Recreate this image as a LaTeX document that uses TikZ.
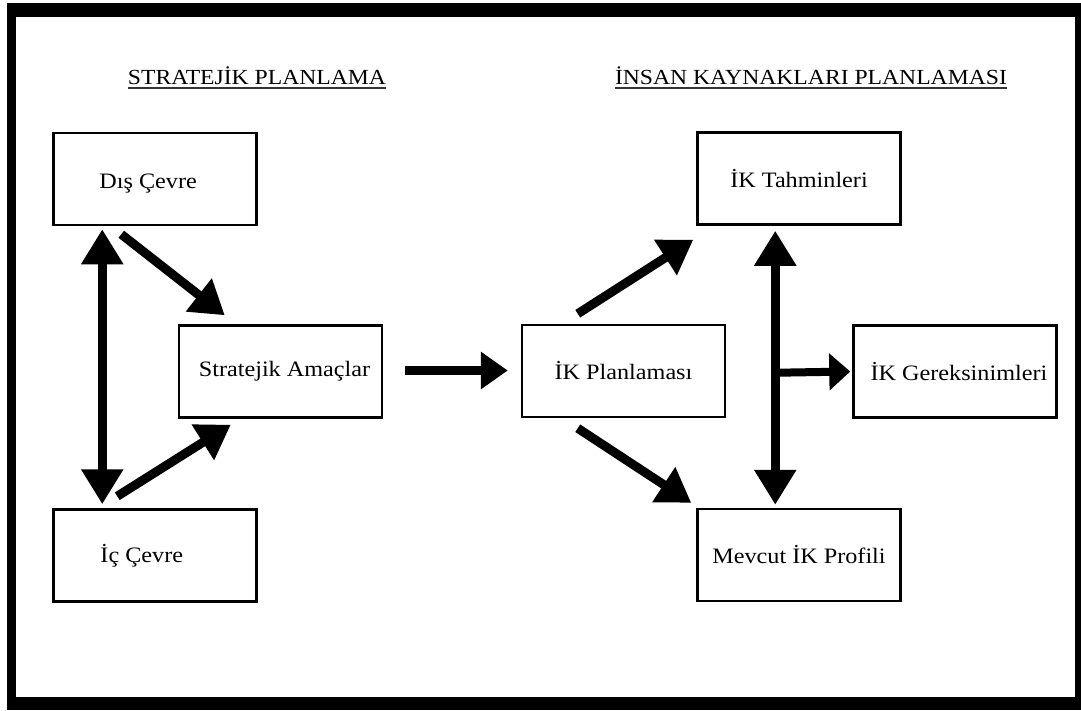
\documentclass[tikz,border=0pt]{standalone}
\usepackage{fontspec}
\setmainfont[FakeStretch=1.1]{Liberation Serif}
\usetikzlibrary{arrows.meta,calc}
\begin{document}
\begin{tikzpicture}[x=1pt,y=-1pt,
  box/.style={draw=black,line width=2.5pt,fill=white,minimum width=203pt,minimum height=92pt,
    inner sep=0pt,font=\fontsize{22}{26}\selectfont},
  lbl/.style={inner sep=0pt,font=\fontsize{22}{26}\selectfont},
  title/.style={inner sep=0pt,anchor=base,font=\fontsize{21.5}{26}\selectfont},
  bigarrow/.style={line width=9pt,-{Triangle[length=33pt,width=40pt]}},
  longarrow/.style={line width=9pt,{Triangle[length=35pt,width=40pt]}-{Triangle[length=35pt,width=40pt]}},
  flatarrow/.style={line width=9pt,-{Triangle[length=27pt,width=36pt]}},
  smallarrow/.style={line width=8pt,-{Triangle[length=21pt,width=36pt]}}]
\useasboundingbox (0,0) rectangle (1081,710);
% page and thick frame
\fill[white] (0,0) rectangle (1081,710);
\fill[black] (7,3) rectangle (1081,710);
\fill[white] (16,17) rectangle (1075,697);

% section titles, underlined
\node[title] (t1) at (257,84) {STRATEJİK PLANLAMA};
\node[title] (t2) at (811,84) {İNSAN KAYNAKLARI PLANLAMASI};
\foreach \t in {t1,t2}
  \draw[line width=1.4pt,black!80] ([yshift=-4pt]\t.base west) -- ([yshift=-4pt]\t.base east);

% strategic planning boxes
\node[box] (dis) at (155,179) {};
\node[lbl,anchor=west] (dist) at ($(dis.west)+(47,5)$) {Dış Çevre};
\node[box] (ic) at (155,555.5) {};
\node[lbl,anchor=west] (ict) at ([xshift=48pt]ic.west) {İç Çevre};
\node[box] (amac) at (280.5,371.5) {\hspace*{8pt}Stratejik Amaçlar};

% human resources planning boxes
\node[box] (ikp) at (623.5,371) {İK Planlaması};
\node[box] (tah) at (799,178.5) {İK Tahminleri};
\node[box] (mev) at (799,555) {Mevcut İK Profili};
\node[box] (ger) at (955,371.5) {\hspace*{8pt}İK Gereksinimleri};

% connectors on the left
\draw[bigarrow] ($(dis.south west)+(69,8)$) -- ($(amac.north west)+(47,-9)$);
\draw[bigarrow] ($(ic.north west)+(65,-12)$) -- ($(amac.south west)+(53,6)$);
\draw[longarrow] ($(dis.south west)+(50,3)$) -- ($(ic.north west)+(50,-4)$);
\draw[flatarrow] ($(amac.east)+(22,-1)$) -- ($(ikp.west)+(-13,-0.5)$);

% connectors on the right
\draw[bigarrow] ($(ikp.north west)+(57,-10)$) -- ($(tah.south west)+(-3,14)$);
\draw[bigarrow] ($(ikp.south west)+(57,10)$) -- ($(mev.north west)+(-5,-5)$);
\draw[longarrow] ($(tah.south west)+(79,5)$) -- ($(mev.north west)+(79,-3)$);
\coordinate (j) at ($(tah.south west)+(79,147)$);
\draw[smallarrow] (j) -- ($(ger.west)+(-2,0)$);
\end{tikzpicture}
\end{document}
